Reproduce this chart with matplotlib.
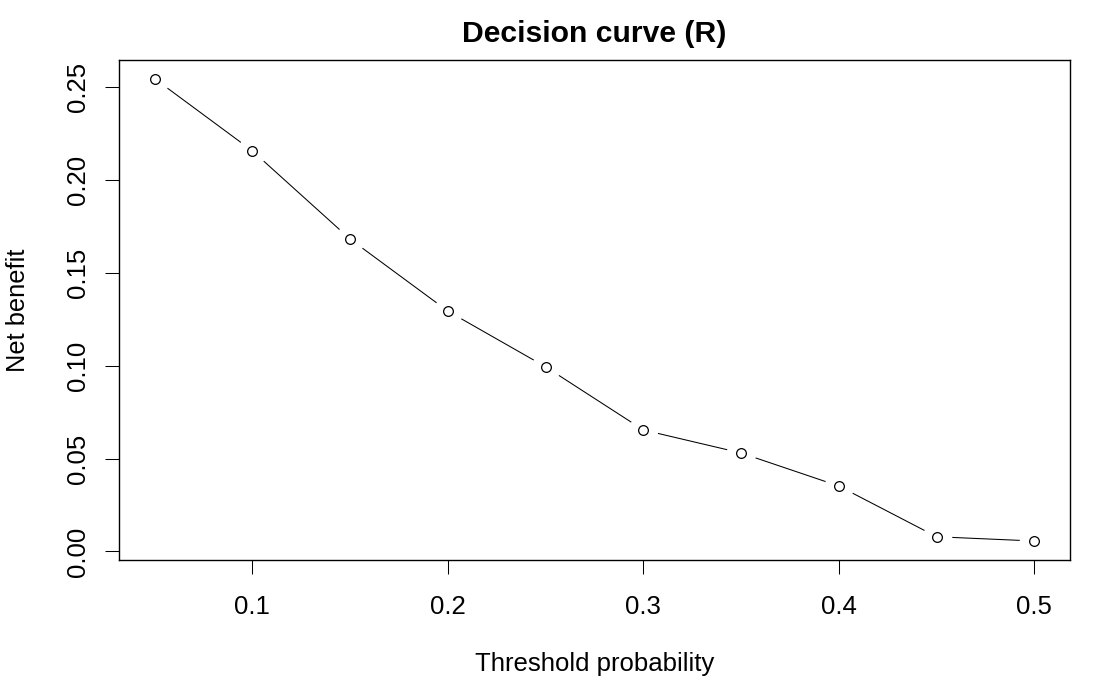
import matplotlib
matplotlib.use("Agg")
import matplotlib.pyplot as plt

# decision curve values
thresholds = [0.05, 0.10, 0.15, 0.20, 0.25, 0.30, 0.35, 0.40, 0.45, 0.50]
net_benefit = [0.2546, 0.2157, 0.1682, 0.1294, 0.0994, 0.0654, 0.0530, 0.0352, 0.0079, 0.0056]
xticks = [0.1, 0.2, 0.3, 0.4, 0.5]
yticks = [0.00, 0.05, 0.10, 0.15, 0.20, 0.25]

plt.rcParams['font.family'] = ['Liberation Sans', 'DejaVu Sans']

fig = plt.figure(figsize=(11, 6.8), dpi=100)
ax = fig.add_axes([0.1086, 0.1772, 0.8637, 0.7343])

# R type="b": line with gaps around the points
ax.plot(thresholds, net_benefit, color='black', lw=0.75, zorder=2)
ax.plot(thresholds, net_benefit, ls='none', marker='o', ms=21.3,
        mfc='white', mec='none', zorder=3)
ax.plot(thresholds, net_benefit, ls='none', marker='o', ms=7.0,
        mfc='white', mec='black', mew=0.9, zorder=4)

# R default 4% padding
xr = max(thresholds) - min(thresholds)
yr = max(net_benefit) - min(net_benefit)
ax.set_xlim(min(thresholds) - 0.04 * xr, max(thresholds) + 0.04 * xr)
ax.set_ylim(min(net_benefit) - 0.04 * yr, max(net_benefit) + 0.04 * yr)

ax.set_xticks(xticks)
ax.set_xticklabels([f"{t:.1f}" for t in xticks])
ax.set_yticks(yticks)
ax.set_yticklabels([f"{t:.2f}" for t in yticks])

ax.tick_params(axis='both', length=10, width=0.75, labelsize=18.5, color='black')
ax.tick_params(axis='x', pad=15.5)
ax.tick_params(axis='y', pad=11.3, labelrotation=90)
for lab in ax.get_yticklabels():
    lab.set_va('center')

for sp in ax.spines.values():
    sp.set_linewidth(1.0)

ax.set_title('Decision curve (R)', fontsize=21.7, fontweight='bold', pad=13.3)
ax.set_xlabel('Threshold probability', fontsize=18.5, labelpad=24)
ax.set_ylabel('Net benefit', fontsize=18.3, labelpad=25.5)

fig.savefig('out.png', dpi=100)
